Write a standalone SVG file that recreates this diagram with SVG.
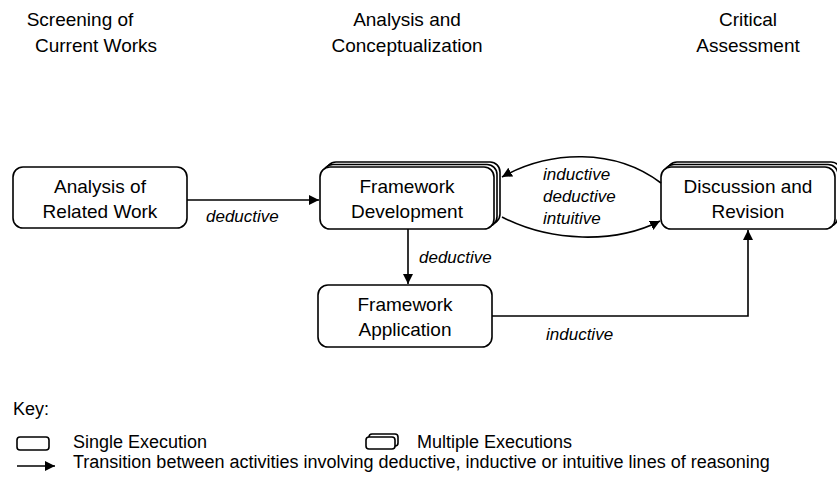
<svg xmlns="http://www.w3.org/2000/svg" width="837" height="482" viewBox="0 0 837 482">
<defs>
<style>
text{font-family:"Liberation Sans",Arial,sans-serif;fill:#000}
.h{font-size:19px;text-anchor:middle}
.n{font-size:19px;text-anchor:middle}
.l{font-size:17px;font-style:italic}
.k{font-size:18px}
.box{fill:#fff;stroke:#000;stroke-width:1.6}
.ln{fill:none;stroke:#000;stroke-width:1.6}
</style>
<marker id="ah" viewBox="0 0 10 10" refX="10" refY="5" markerWidth="10" markerHeight="10" markerUnits="userSpaceOnUse" orient="auto">
<path d="M0,0 L10,5 L0,10 z" fill="#000"/>
</marker>
</defs>
<rect width="837" height="482" fill="#fff"/>
<g id="headers">
<text class="h" x="80" y="26">Screening of</text>
<text class="h" x="96" y="52">Current Works</text>
<text class="h" x="407" y="26">Analysis and</text>
<text class="h" x="407" y="52">Conceptualization</text>
<text class="h" x="748" y="26">Critical</text>
<text class="h" x="748" y="52">Assessment</text>
</g>
<g id="analysis">
<rect class="box" x="13" y="167" width="174" height="61" rx="10"/>
<text class="n" x="100" y="193">Analysis of</text>
<text class="n" x="100" y="218">Related Work</text>
</g>
<g id="development">
<rect class="box" x="326" y="162" width="174" height="62" rx="10"/>
<rect class="box" x="323" y="164.5" width="174" height="62" rx="10"/>
<rect class="box" x="320" y="167" width="174" height="62" rx="10"/>
<text class="n" x="407" y="193">Framework</text>
<text class="n" x="407" y="218">Development</text>
</g>
<g id="discussion">
<rect class="box" x="667" y="162" width="174" height="62" rx="10"/>
<rect class="box" x="664" y="164.5" width="174" height="62" rx="10"/>
<rect class="box" x="661" y="167" width="174" height="62" rx="10"/>
<text class="n" x="748" y="193">Discussion and</text>
<text class="n" x="748" y="218">Revision</text>
</g>
<g id="application">
<rect class="box" x="318" y="285" width="174" height="62" rx="10"/>
<text class="n" x="405" y="311">Framework</text>
<text class="n" x="405" y="336">Application</text>
</g>
<g id="connectors">
<path class="ln" d="M187,200 H319" marker-end="url(#ah)"/>
<text class="l" x="206" y="222">deductive</text>
<path class="ln" d="M408,229 V284" marker-end="url(#ah)"/>
<text class="l" x="419" y="263">deductive</text>
<path class="ln" d="M492,316 H748 V230" marker-end="url(#ah)"/>
<text class="l" x="546" y="340">inductive</text>
<path class="ln" d="M661,183 C615,148 550,150 502,177" marker-end="url(#ah)"/>
<path class="ln" d="M502,217 C550,242 615,244 660,221" marker-end="url(#ah)"/>
<text class="l" x="543" y="180">inductive</text>
<text class="l" x="543" y="202">deductive</text>
<text class="l" x="543" y="224">intuitive</text>
</g>
<g id="key">
<text class="k" x="13" y="415">Key:</text>
<rect class="box" x="17" y="437" width="32" height="13" rx="3"/>
<text class="k" x="73" y="448">Single Execution</text>
<rect class="box" x="369" y="434" width="29" height="12" rx="3"/>
<rect class="box" x="366" y="437" width="29" height="12" rx="3"/>
<text class="k" x="417" y="448">Multiple Executions</text>
<path class="ln" d="M17,466 H55" marker-end="url(#ah)"/>
<text class="k" x="73" y="468">Transition between activities involving deductive, inductive or intuitive lines of reasoning</text>
</g>
</svg>
